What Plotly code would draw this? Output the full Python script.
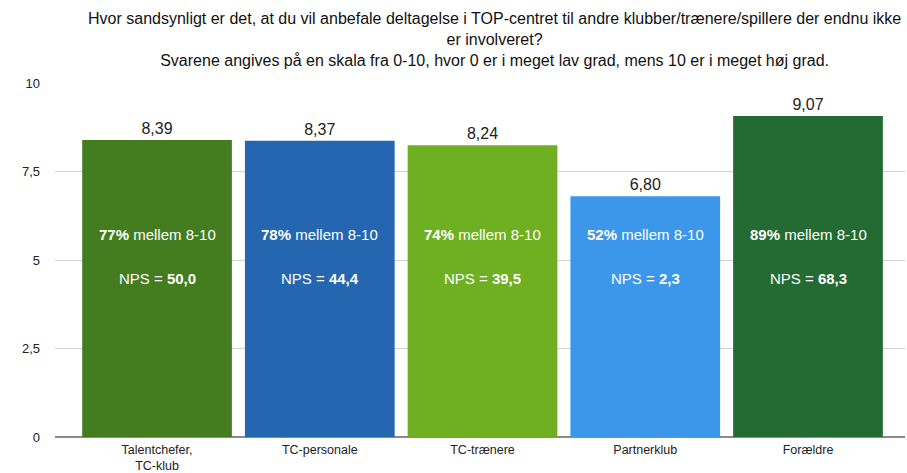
import plotly.graph_objects as go

categories = ["Talentchefer,<br>TC-klub", "TC-personale", "TC-trænere", "Partnerklub", "Forældre"]
scores = [8.39, 8.37, 8.24, 6.80, 9.07]
pct_8_10 = [77, 78, 74, 52, 89]
nps = ["50,0", "44,4", "39,5", "2,3", "68,3"]
colors = ["#437d1f", "#2566b0", "#6eb021", "#3c97eb", "#246a33"]

FONT = "Liberation Sans, Arial, Helvetica, sans-serif"

fig = go.Figure()
fig.add_trace(go.Bar(
    x=list(range(len(categories))), y=scores,
    marker=dict(color=colors, line=dict(width=0)),
    width=0.92,
    texttemplate="%{y:.2f}", textposition="outside",
    textfont=dict(size=16, color="#222", family=FONT),
    cliponaxis=False,
    hoverinfo="skip",
))

annotations = []
for i in range(len(categories)):
    annotations.append(dict(x=i, y=5.71, xref="x", yref="y", showarrow=False,
                            text=f"<b>{pct_8_10[i]}%</b> mellem 8-10",
                            font=dict(size=15, color="white", family=FONT)))
    annotations.append(dict(x=i, y=4.49, xref="x", yref="y", showarrow=False,
                            text=f"NPS = <b>{nps[i]}</b>",
                            font=dict(size=15, color="white", family=FONT)))

annotations.append(dict(
    x=(494 - 55) / (905 - 55), xref="paper",
    y=1 + (83 - 39) / 354, yref="paper",
    xanchor="center", yanchor="middle", showarrow=False,
    text=("Hvor sandsynligt er det, at du vil anbefale deltagelse i TOP-centret til andre klubber/trænere/spillere der endnu ikke"
          "<br>er involveret?<br>Svarene angives på en skala fra 0-10, hvor 0 er i meget lav grad, mens 10 er i meget høj grad."),
    font=dict(size=16, color="#111", family=FONT),
))

fig.update_layout(
    width=907, height=473,
    margin=dict(l=55, r=2, t=83, b=36, pad=0, autoexpand=False),
    paper_bgcolor="white", plot_bgcolor="white",
    separators=",.",
    showlegend=False,
    font=dict(family=FONT, color="#222"),
    annotations=annotations,
    xaxis=dict(
        range=[-0.627, 4.596], automargin=False,
        tickmode="array", tickvals=list(range(len(categories))), ticktext=categories,
        tickfont=dict(size=12.5, color="#222"),
        showgrid=False, zeroline=False, showline=False, ticks="",
        ticklabelstandoff=3,
    ),
    yaxis=dict(
        range=[0, 10], automargin=False, tickmode="array", tickvals=[0, 2.5, 5, 7.5, 10],
        ticktext=["0", "2,5", "5", "7,5", "10"],
        tickfont=dict(size=13, color="#222"),
        showgrid=True, gridcolor="rgba(0,0,0,0.18)", gridwidth=1,
        zeroline=True, zerolinecolor="#8a8a8a", zerolinewidth=2,
        showline=False, ticks="", ticklabelstandoff=14,
        layer="above traces",
    ),
)

fig.write_html("out.html", post_script="document.body.style.margin='0';",
               config={"displayModeBar": False})
